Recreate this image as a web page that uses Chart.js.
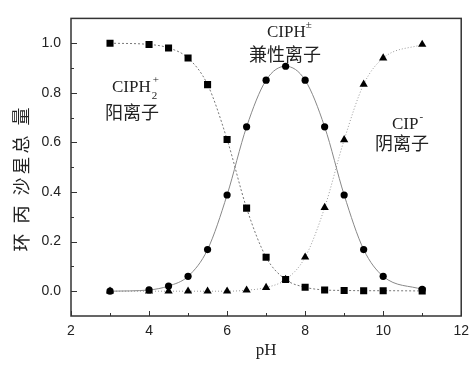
<!DOCTYPE html>
<html>
<head>
<meta charset="utf-8">
<script src="https://cdn.jsdelivr.net/npm/chart.js@4/dist/chart.umd.min.js"></script>
<style>
  html, body { margin: 0; padding: 0; background: #fff; }
  #chart { display: block; }
</style>
</head>
<body>
<canvas id="chart" width="476" height="365"></canvas>
<script>
// valores
const pH = [3, 4, 4.5, 5, 5.5, 6, 6.5, 7, 7.5, 8, 8.5, 9, 9.5, 10, 11];
const cationShare = [1.0, 0.995, 0.981, 0.94, 0.833, 0.612, 0.335, 0.137, 0.047, 0.016, 0.005, 0.003, 0.002, 0.002, 0.001];
const zwitterShare = [0.0, 0.005, 0.021, 0.06, 0.168, 0.388, 0.663, 0.851, 0.907, 0.851, 0.663, 0.388, 0.168, 0.06, 0.007];
const anionShare = [0.0, 0.0, 0.0, 0.0, 0.0, 0.0, 0.004, 0.015, 0.047, 0.137, 0.337, 0.61, 0.834, 0.94, 0.995];

const xMajorTicks = [2, 4, 6, 8, 10, 12];
const xMinorTicks = [3, 5, 7, 9, 11];
const yMajorTicks = [0, 0.2, 0.4, 0.6, 0.8, 1.0];
const yMinorTicks = [0.1, 0.3, 0.5, 0.7, 0.9];

const yTitle = '环 丙 沙星总 量';
const xTitle = 'pH';

function toPoints(values) {
  return pH.map((x, i) => ({ x: x, y: values[i] }));
}

// moldura e ticks para dentro (estilo Origin)
const framePlugin = {
  id: 'frame',
  afterDraw(chart) {
    const ctx = chart.ctx;
    const area = chart.chartArea;
    const xs = chart.scales.x;
    const ys = chart.scales.y;
    ctx.save();
    ctx.strokeStyle = '#333';
    ctx.lineWidth = 1.5;
    ctx.strokeRect(area.left, area.top, area.right - area.left, area.bottom - area.top);

    ctx.lineWidth = 1;
    ctx.beginPath();
    xMajorTicks.forEach(v => {
      const px = Math.round(xs.getPixelForValue(v)) + 0.5;
      ctx.moveTo(px, area.bottom);
      ctx.lineTo(px, area.bottom - 5);
    });
    xMinorTicks.forEach(v => {
      const px = Math.round(xs.getPixelForValue(v)) + 0.5;
      ctx.moveTo(px, area.bottom);
      ctx.lineTo(px, area.bottom - 3);
    });
    yMajorTicks.forEach(v => {
      const py = Math.round(ys.getPixelForValue(v)) + 0.5;
      ctx.moveTo(area.left, py);
      ctx.lineTo(area.left + 6, py);
    });
    yMinorTicks.forEach(v => {
      const py = Math.round(ys.getPixelForValue(v)) + 0.5;
      ctx.moveTo(area.left, py);
      ctx.lineTo(area.left + 3, py);
    });
    ctx.stroke();
    ctx.restore();
  }
};

// rotulos das especies e titulo do eixo y
const labelsPlugin = {
  id: 'speciesLabels',
  afterDraw(chart) {
    const ctx = chart.ctx;
    ctx.save();
    ctx.fillStyle = '#222';
    ctx.textBaseline = 'alphabetic';
    ctx.textAlign = 'left';

    const serif = '17px "Liberation Serif", "DejaVu Serif", serif';
    const small = '11px "Liberation Serif", "DejaVu Serif", serif';
    const cjk = '18px "Noto Sans CJK SC", sans-serif';

    // CIPH2+
    ctx.font = serif;
    ctx.fillText('CIPH', 112, 92);
    let w = ctx.measureText('CIPH').width;
    ctx.font = small;
    ctx.fillText('2', 112 + w + 1, 99);
    ctx.fillText('+', 112 + w + 2, 83);
    ctx.font = cjk;
    ctx.fillText('阳离子', 105, 119);

    // CIPH±
    ctx.font = serif;
    ctx.fillText('CIPH', 267, 37);
    w = ctx.measureText('CIPH').width;
    ctx.font = small;
    ctx.fillText('±', 267 + w, 28);
    ctx.font = cjk;
    ctx.fillText('兼性离子', 249, 61);

    // CIP-
    ctx.font = serif;
    ctx.fillText('CIP', 392, 129);
    w = ctx.measureText('CIP').width;
    ctx.font = small;
    ctx.fillText('-', 392 + w + 1, 120);
    ctx.font = cjk;
    ctx.fillText('阴离子', 375, 150);

    // titulo do eixo y
    ctx.font = '18px "Noto Sans CJK SC", sans-serif';
    ctx.letterSpacing = '3px';
    ctx.translate(21, 178);
    ctx.rotate(-Math.PI / 2);
    ctx.textAlign = 'center';
    ctx.textBaseline = 'middle';
    ctx.fillText(yTitle, 0, 0);
    ctx.restore();
  }
};

const ctx = document.getElementById('chart').getContext('2d');
const speciationChart = new Chart(ctx, {
  type: 'scatter',
  data: {
    datasets: [
      {
        label: 'CIPH2+',
        data: toPoints(cationShare),
        showLine: true,
        cubicInterpolationMode: 'monotone',
        borderColor: '#777',
        borderWidth: 1,
        borderDash: [2, 2],
        pointStyle: 'rect',
        pointRadius: 5,
        pointBackgroundColor: '#000',
        pointBorderColor: '#000',
        pointBorderWidth: 0
      },
      {
        label: 'CIPH±',
        data: toPoints(zwitterShare),
        showLine: true,
        cubicInterpolationMode: 'monotone',
        borderColor: '#888',
        borderWidth: 1,
        pointStyle: 'circle',
        pointRadius: 3.6,
        pointBackgroundColor: '#000',
        pointBorderColor: '#000',
        pointBorderWidth: 0
      },
      {
        label: 'CIP-',
        data: toPoints(anionShare),
        showLine: true,
        cubicInterpolationMode: 'monotone',
        borderColor: '#999',
        borderWidth: 1,
        borderDash: [1, 2],
        pointStyle: 'triangle',
        pointRadius: 4.8,
        pointBackgroundColor: '#000',
        pointBorderColor: '#000',
        pointBorderWidth: 0
      }
    ]
  },
  options: {
    responsive: false,
    animation: false,
    devicePixelRatio: 1,
    layout: {
      padding: { top: 18, right: 8, left: 0, bottom: 0 }
    },
    plugins: {
      legend: { display: false },
      tooltip: { enabled: false }
    },
    scales: {
      x: {
        type: 'linear',
        min: 2,
        max: 12,
        afterBuildTicks: scale => { scale.ticks = xMajorTicks.map(v => ({ value: v })); },
        afterFit: scale => { scale.height = 49; },
        grid: { display: false, drawTicks: false },
        border: { display: false },
        ticks: {
          padding: 7,
          color: '#222',
          font: { family: '"Liberation Sans", Arial, sans-serif', size: 14 },
          callback: v => String(v)
        },
        title: {
          display: true,
          text: xTitle,
          color: '#222',
          font: { family: '"Liberation Serif", serif', size: 17 },
          padding: { top: 0, bottom: 4 }
        }
      },
      y: {
        type: 'linear',
        min: -0.1,
        max: 1.1,
        afterBuildTicks: scale => { scale.ticks = yMajorTicks.map(v => ({ value: v })); },
        afterFit: scale => { scale.width = 71; },
        grid: { display: false, drawTicks: false },
        border: { display: false },
        ticks: {
          padding: 10,
          color: '#222',
          font: { family: '"Liberation Sans", Arial, sans-serif', size: 14 },
          callback: v => Number(v).toFixed(1)
        }
      }
    }
  },
  plugins: [framePlugin, labelsPlugin]
});
</script>
</body>
</html>
